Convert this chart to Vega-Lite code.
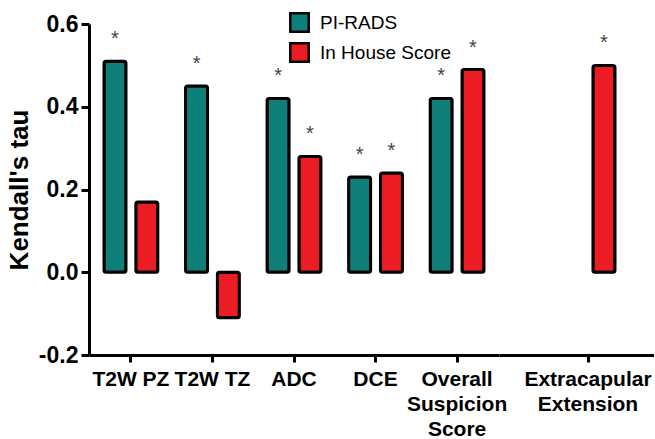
{
  "$schema": "https://vega.github.io/schema/vega-lite/v6.json",
  "autosize": {"type": "pad"},
  "padding": {"left": 6, "top": 12, "right": 0, "bottom": 0},
  "background": "white",
  "spacing": 0,
  "bounds": "flush",
  "config": {
    "view": {"stroke": null},
    "font": "Liberation Sans",
    "concat": {"spacing": 0},
    "axis": {"domainColor": "black", "domainWidth": 3, "tickColor": "black", "tickWidth": 3, "grid": false, "labelColor": "black", "titleColor": "black", "labelFont": "Liberation Sans", "titleFont": "Liberation Sans"}
  },
  "data": {
    "values": [
      {"measure": "T2W PZ", "score": "PI-RADS", "tau": 0.51, "sig": "*"},
      {"measure": "T2W PZ", "score": "In House Score", "tau": 0.17, "sig": ""},
      {"measure": "T2W TZ", "score": "PI-RADS", "tau": 0.45, "sig": "*"},
      {"measure": "T2W TZ", "score": "In House Score", "tau": -0.11, "sig": ""},
      {"measure": "ADC", "score": "PI-RADS", "tau": 0.42, "sig": "*"},
      {"measure": "ADC", "score": "In House Score", "tau": 0.28, "sig": "*"},
      {"measure": "DCE", "score": "PI-RADS", "tau": 0.23, "sig": "*"},
      {"measure": "DCE", "score": "In House Score", "tau": 0.24, "sig": "*"},
      {"measure": "Overall Suspicion Score", "score": "PI-RADS", "tau": 0.42, "sig": "*"},
      {"measure": "Overall Suspicion Score", "score": "In House Score", "tau": 0.49, "sig": "*"},
      {"measure": "Extracapular Extension", "score": "In House Score", "tau": 0.50, "sig": "*"}
    ]
  },
  "resolve": {"scale": {"y": "shared", "color": "shared", "x": "independent", "xOffset": "independent"}},
  "hconcat": [
    {
      "width": 410,
      "height": 331,
      "transform": [{"filter": "datum.measure != 'Extracapular Extension'"}],
      "encoding": {
        "x": {
          "field": "measure", "type": "nominal",
          "sort": ["T2W PZ", "T2W TZ", "ADC", "DCE", "Overall Suspicion Score"],
          "scale": {"paddingInner": 0.34, "paddingOuter": 0.184},
          "axis": {
            "title": null, "labelAngle": 0, "labelFontSize": 21, "labelFontWeight": "bold",
            "tickSize": 7, "labelPadding": 6, "labelLineHeight": 25,
            "labelExpr": "datum.value == 'Overall Suspicion Score' ? ['Overall', 'Suspicion', 'Score'] : datum.value"
          }
        },
        "xOffset": {"field": "score", "type": "nominal", "sort": ["PI-RADS", "In House Score"], "scale": {"domain": ["PI-RADS", "In House Score"], "paddingInner": 0.31, "paddingOuter": 0}},
        "y": {
          "field": "tau", "type": "quantitative",
          "scale": {"domain": [-0.2, 0.6], "nice": false},
          "axis": {"title": "Kendall's tau", "titleFontSize": 26, "titleFontWeight": "bold", "titlePadding": 6, "labelFontSize": 23, "labelFontWeight": "bold", "values": [-0.2, 0, 0.2, 0.4, 0.6], "labelExpr": "datum.value < 0 ? '-' + format(-datum.value, '.1f') : format(datum.value, '.1f')", "tickSize": 8, "labelPadding": 3}
        }
      },
      "layer": [
        {
          "mark": {"type": "bar", "stroke": "black", "strokeWidth": 3, "strokeOpacity": 1, "cornerRadius": 2},
          "encoding": {
            "color": {
              "field": "score", "type": "nominal", "sort": ["PI-RADS", "In House Score"],
              "scale": {"domain": ["PI-RADS", "In House Score"], "range": ["#0f7f79", "#ec1c24"]},
              "legend": {"title": null, "orient": "none", "legendX": 200, "legendY": -12, "symbolType": "square", "symbolSize": 340, "symbolStrokeColor": "black", "symbolStrokeWidth": 2.5, "symbolOpacity": 1, "labelFontSize": 19, "labelColor": "black", "labelFont": "Liberation Sans", "rowPadding": 1, "labelOffset": 10}
            }
          }
        },
        {
          "mark": {"type": "text", "fontSize": 20, "color": "#444", "baseline": "middle", "dy": -22},
          "encoding": {"text": {"field": "sig"}}
        },
        {
          "mark": {"type": "rule", "color": "black", "strokeWidth": 3},
          "encoding": {"y": {"datum": 0}}
        }
      ]
    },
    {
      "width": 155,
      "height": 331,
      "transform": [{"filter": "datum.measure == 'Extracapular Extension'"}],
      "encoding": {
        "x": {
          "field": "measure", "type": "nominal",
          "scale": {"paddingInner": 0, "paddingOuter": 0.936, "align": 0.614},
          "axis": {
            "title": null, "labelAngle": 0, "labelFontSize": 21, "labelFontWeight": "bold",
            "tickSize": 7, "labelPadding": 6, "labelLineHeight": 25,
            "labelExpr": "datum.value == 'Extracapular Extension' ? ['Extracapular', 'Extension'] : datum.value"
          }
        },
        "xOffset": {"field": "score", "type": "nominal", "scale": {"domain": ["PI-RADS", "In House Score"], "paddingInner": 0.31, "paddingOuter": 0}},
        "y": {
          "field": "tau", "type": "quantitative",
          "scale": {"domain": [-0.2, 0.6], "nice": false},
          "axis": null
        }
      },
      "layer": [
        {
          "mark": {"type": "bar", "stroke": "black", "strokeWidth": 3, "strokeOpacity": 1, "cornerRadius": 2},
          "encoding": {
            "color": {
              "field": "score", "type": "nominal",
              "scale": {"domain": ["PI-RADS", "In House Score"], "range": ["#0f7f79", "#ec1c24"]},
              "legend": null
            }
          }
        },
        {
          "mark": {"type": "text", "fontSize": 20, "color": "#444", "baseline": "middle", "dy": -22},
          "encoding": {"text": {"field": "sig"}}
        },
        {
          "mark": {"type": "rule", "color": "black", "strokeWidth": 3},
          "encoding": {"y": {"datum": 0}}
        }
      ]
    }
  ]
}
